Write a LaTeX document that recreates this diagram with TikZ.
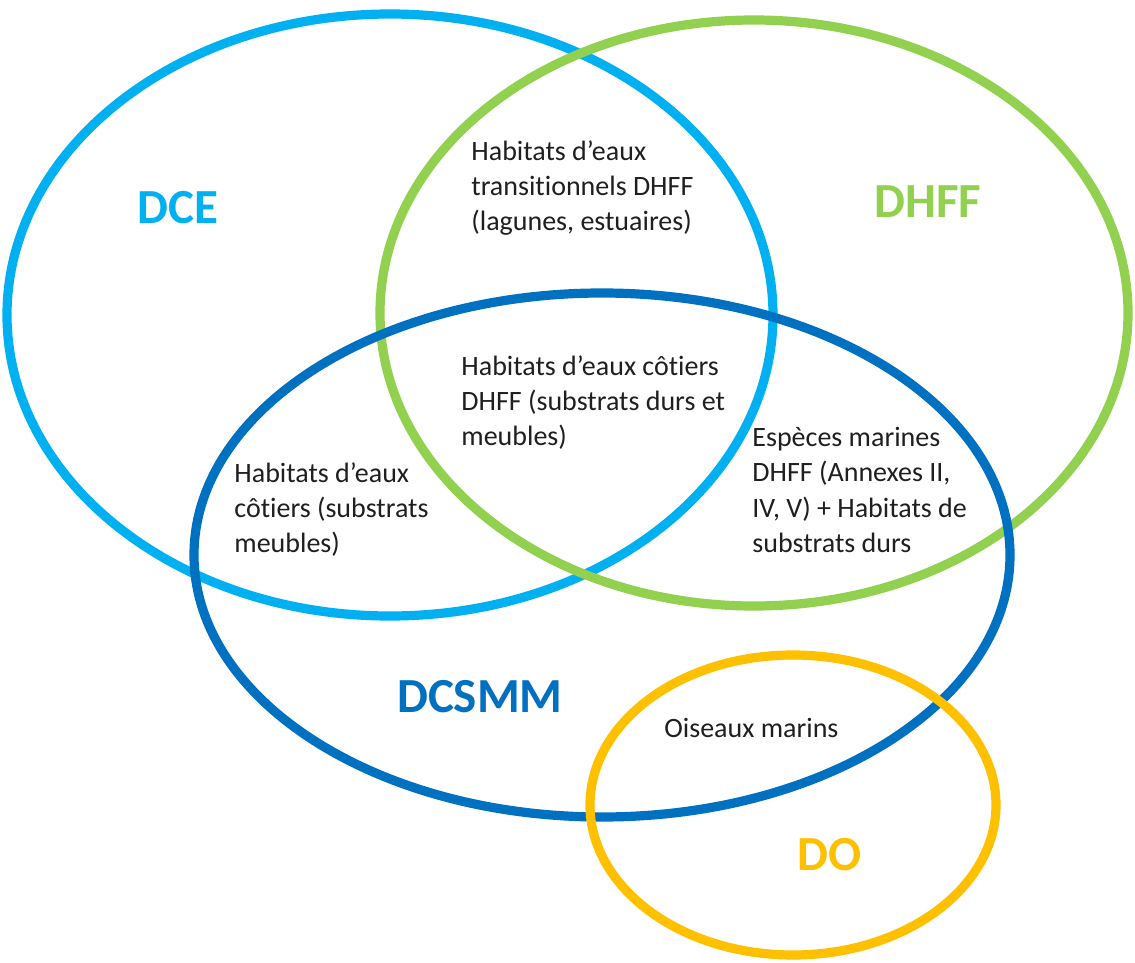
\documentclass[tikz,border=0pt]{standalone}
\usepackage{fontspec}
\setmainfont{Carlito}[Ligatures={NoCommon,NoRare,NoContextual}]
\usetikzlibrary{shapes.geometric}
\definecolor{cdce}{HTML}{00B0F0}
\definecolor{cdhff}{HTML}{92D050}
\definecolor{cdcsmm}{HTML}{0070C0}
\definecolor{cdo}{HTML}{FFC000}
\definecolor{ctext}{HTML}{1F1F1F}
\begin{document}
\begin{tikzpicture}[x=0.5pt,y=-0.5pt,
  venn/.style={ellipse, draw, line width=4.6pt, inner sep=0pt},
  setlabel/.style={font=\fontsize{24.5}{28}\selectfont\bfseries, inner sep=0pt},
  body/.style={font=\fontsize{14}{17.6}\selectfont, text=ctext, align=left, anchor=north west, inner sep=0pt}]
\useasboundingbox (0,0) rectangle (1135,963);
\node[venn, draw=cdce, minimum width=383pt, minimum height=301pt] (dce) at (390,315) {};
\node[venn, draw=cdhff, minimum width=374pt, minimum height=293pt] (dhff) at (754,313) {};
\node[venn, draw=cdcsmm, minimum width=408pt, minimum height=262pt] (dcsmm) at (602,555) {};
\node[venn, draw=cdo, minimum width=203pt, minimum height=150pt] (do) at (793,805) {};
\node[setlabel, text=cdce] (ldce) at (178,208) {DCE};
\node[setlabel, text=cdhff] (ldhff) at (928,202) {DHFF};
\node[setlabel, text=cdcsmm] (ldcsmm) at (480,697) {DCSMM};
\node[setlabel, text=cdo] (ldo) at (830,855) {DO};
\node[body] (t1) at (471,140) {Habitats d’eaux\\transitionnels DHFF\\(lagunes, estuaires)};
\node[body] (t2) at (461,355) {Habitats d’eaux côtiers\\DHFF (substrats durs et\\meubles)};
\node[body] (t3) at (234,462) {Habitats d’eaux\\côtiers (substrats\\meubles)};
\node[body] (t4) at (752,427) {Espèces marines\\DHFF (Annexes II,\\IV, V) + Habitats de\\substrats durs};
\node[body] (t5) at (664,718) {Oiseaux marins};
\end{tikzpicture}
\end{document}
